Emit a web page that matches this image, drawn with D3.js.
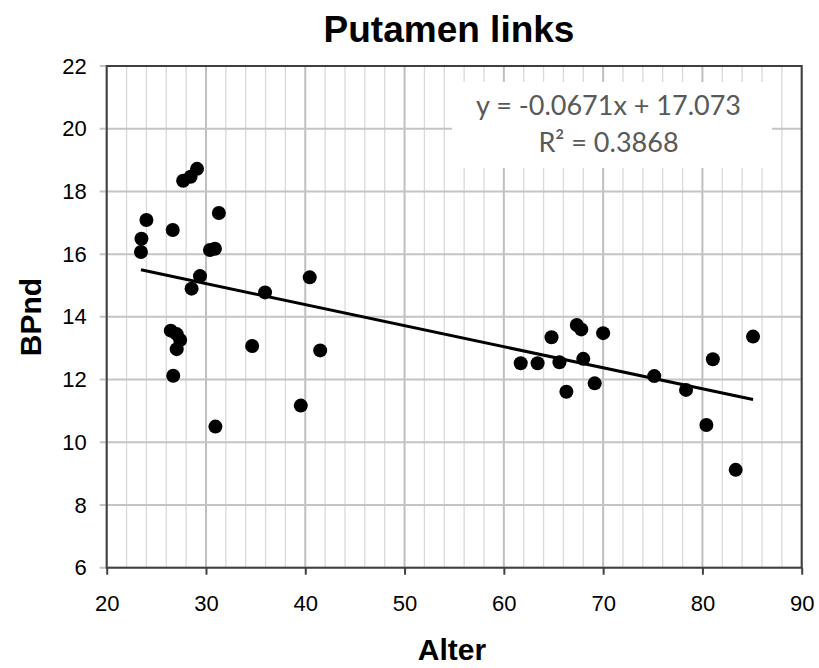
<!DOCTYPE html>
<html>
<head>
<meta charset="utf-8">
<script src="https://cdn.jsdelivr.net/npm/d3@7/dist/d3.min.js"></script>
<style>
  html, body { margin: 0; padding: 0; background: #fff; }
  svg { display: block; }
</style>
</head>
<body>
<svg id="chart" width="819" height="668"></svg>
<script>
// Age (Alter) and putamen BPnd per subject
const alter = [23.45, 23.5, 24.0, 26.65, 27.7, 28.45, 29.1, 31.3, 30.4, 30.9, 29.4, 28.55,
               26.45, 27.05, 27.4, 27.05, 26.7, 30.95,
               35.95, 40.45, 34.65, 41.5, 39.55,
               61.7, 63.4, 64.8, 65.6, 67.35, 67.8, 68.0, 66.3, 69.15, 70.0,
               75.15, 78.35, 80.4, 81.05, 83.35, 85.1];
const bpnd  = [16.07, 16.49, 17.09, 16.77, 18.34, 18.47, 18.72, 17.31, 16.13, 16.17, 15.3, 14.9,
               13.56, 13.45, 13.26, 12.97, 12.12, 10.5,
               14.78, 15.26, 13.07, 12.93, 11.17,
               12.52, 12.52, 13.35, 12.55, 13.74, 13.6, 12.66, 11.61, 11.88, 13.48,
               12.11, 11.67, 10.55, 12.65, 9.12, 13.37];

// Linear trend line as printed on the chart
const trendSlope = -0.0671;
const trendIntercept = 17.073;
const trendLabel = "y = -0.0671x + 17.073";
const r2Label = "R² = 0.3868";

const xTicks = [20, 30, 40, 50, 60, 70, 80, 90];
const xMinorTicks = d3.range(20, 91, 2);
const yTicks = [6, 8, 10, 12, 14, 16, 18, 20, 22];

const svg = d3.select("#chart");
const plotL = 106.7, plotR = 801.7, plotT = 66, plotB = 567.7;

const x = d3.scaleLinear().domain([20, 90]).range([plotL, plotR]);
const y = d3.scaleLinear().domain([6, 22]).range([plotB, plotT]);

// Grid: light minor verticals, stronger major verticals and horizontals
const grid = svg.append("g");
grid.selectAll("line.minor").data(xMinorTicks.filter(d => d % 10 !== 0)).enter()
  .append("line").attr("class", "minor")
  .attr("x1", d => x(d)).attr("x2", d => x(d))
  .attr("y1", plotT).attr("y2", plotB)
  .attr("stroke", "#d9d9d9").attr("stroke-width", 1.3);
grid.selectAll("line.major").data(xTicks).enter()
  .append("line").attr("class", "major")
  .attr("x1", d => x(d)).attr("x2", d => x(d))
  .attr("y1", plotT).attr("y2", plotB)
  .attr("stroke", "#bfbfbf").attr("stroke-width", 2);
grid.selectAll("line.h").data(yTicks).enter()
  .append("line").attr("class", "h")
  .attr("x1", plotL - 7).attr("x2", plotR)
  .attr("y1", d => y(d)).attr("y2", d => y(d))
  .attr("stroke", "#c4c4c4").attr("stroke-width", 2);

// Equation box sits over the grid
const eqCx = 608.5;
svg.append("rect")
  .attr("x", 452).attr("y", 82).attr("width", 320).attr("height", 86)
  .attr("fill", "#fff");
svg.append("text")
  .attr("x", eqCx).attr("y", 115)
  .attr("text-anchor", "middle")
  .attr("font-family", "Lato, 'Open Sans', sans-serif")
  .attr("font-size", 27).attr("fill", "#595959")
  .text(trendLabel);
svg.append("text")
  .attr("x", eqCx).attr("y", 151.7)
  .attr("text-anchor", "middle")
  .attr("font-family", "Lato, 'Open Sans', sans-serif")
  .attr("font-size", 27).attr("fill", "#595959")
  .text(r2Label);

// Plot frame
svg.append("rect")
  .attr("x", plotL).attr("y", plotT).attr("width", plotR - plotL).attr("height", plotB - plotT)
  .attr("fill", "none").attr("stroke", "#404040").attr("stroke-width", 2);

// X axis ticks and labels
const xAxis = svg.append("g")
  .attr("transform", `translate(0,${plotB})`)
  .call(d3.axisBottom(x).tickValues(xTicks).tickSize(7).tickPadding(21).tickFormat(d3.format("d")));
xAxis.select(".domain").remove();
xAxis.selectAll(".tick line").attr("stroke", "#404040").attr("stroke-width", 2);
xAxis.selectAll(".tick text")
  .attr("font-family", "Arial, 'Liberation Sans', sans-serif")
  .attr("font-size", 22).attr("fill", "#000");

// Y axis labels
const yAxis = svg.append("g")
  .attr("transform", `translate(${plotL},0)`)
  .call(d3.axisLeft(y).tickValues(yTicks).tickSize(0).tickPadding(20).tickFormat(d3.format("d")));
yAxis.select(".domain").remove();
yAxis.selectAll(".tick text")
  .attr("font-family", "Arial, 'Liberation Sans', sans-serif")
  .attr("font-size", 22).attr("fill", "#000");

// Trend line across the observed age range
const [xmin, xmax] = d3.extent(alter);
svg.append("line")
  .attr("x1", x(xmin)).attr("y1", y(trendSlope * xmin + trendIntercept))
  .attr("x2", x(xmax)).attr("y2", y(trendSlope * xmax + trendIntercept))
  .attr("stroke", "#000").attr("stroke-width", 3);

// Data points
svg.append("g").selectAll("circle").data(alter).enter()
  .append("circle")
  .attr("cx", d => x(d))
  .attr("cy", (d, i) => y(bpnd[i]))
  .attr("r", 7)
  .attr("fill", "#000");

// Titles
svg.append("text")
  .attr("x", 449).attr("y", 42)
  .attr("text-anchor", "middle")
  .attr("font-family", "Arial, 'Liberation Sans', sans-serif")
  .attr("font-weight", "bold").attr("font-size", 37)
  .text("Putamen links");
svg.append("text")
  .attr("x", 452).attr("y", 660)
  .attr("text-anchor", "middle")
  .attr("font-family", "Arial, 'Liberation Sans', sans-serif")
  .attr("font-weight", "bold").attr("font-size", 30)
  .text("Alter");
svg.append("text")
  .attr("transform", "translate(41,317) rotate(-90)")
  .attr("text-anchor", "middle")
  .attr("font-family", "Arial, 'Liberation Sans', sans-serif")
  .attr("font-weight", "bold").attr("font-size", 30)
  .text("BPnd");
</script>
</body>
</html>
